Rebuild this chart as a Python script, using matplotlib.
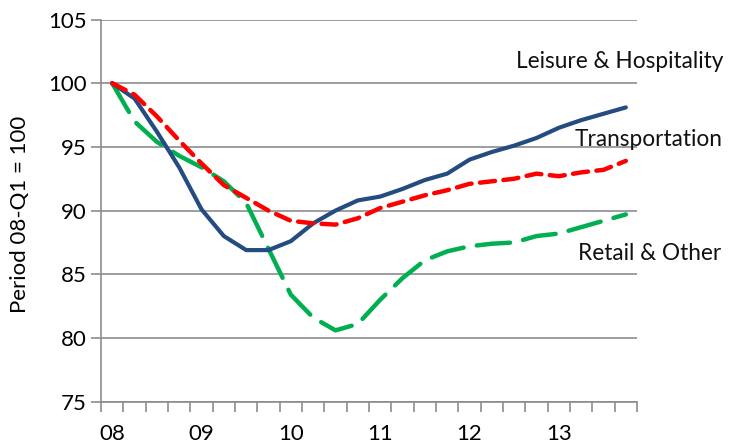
import matplotlib
matplotlib.use("Agg")
import matplotlib.pyplot as plt
import numpy as np

plt.rcParams['font.family'] = ['Lato', 'DejaVu Sans']

quarters = [f"{y:02d}-Q{q}" for y in range(8, 14) for q in range(1, 5)]
year_labels = ["08", "09", "10", "11", "12", "13"]

leisure = [100.0, 98.8, 96.2, 93.4, 90.1, 88.0, 86.9, 86.9, 87.6, 89.0, 90.0, 90.8,
           91.1, 91.7, 92.4, 92.9, 94.0, 94.6, 95.1, 95.7, 96.5, 97.1, 97.6, 98.1]
transport = [100.0, 99.1, 97.4, 95.5, 93.7, 92.0, 91.0, 90.0, 89.2, 89.0, 88.9, 89.4,
             90.2, 90.7, 91.2, 91.6, 92.1, 92.3, 92.5, 92.9, 92.7, 93.0, 93.2, 93.9]
retail = [100.0, 97.0, 95.4, 94.3, 93.4, 92.3, 90.6, 87.0, 83.4, 81.6, 80.6, 81.1,
          83.0, 84.7, 86.1, 86.8, 87.2, 87.4, 87.5, 88.0, 88.2, 88.7, 89.2, 89.7]

fig = plt.figure(figsize=(7.29, 4.45), dpi=100)
ax = fig.add_axes([101/729, 1 - 401.7/445, (637-101)/729, (401.7-19.5)/445])

x = np.arange(len(quarters))
ax.plot(x, leisure, color='#244C80', lw=3.0, solid_capstyle='round', solid_joinstyle='round', zorder=3)
ax.plot(x, transport, color='#FF0000', lw=3.2, linestyle=(0, (3.4, 1.9)), dash_capstyle='round', zorder=4)
ax.plot(x, retail, color='#00B050', lw=3.2, linestyle=(0, (7.5, 3.0)), dash_capstyle='round', zorder=2)

ax.set_xlim(-0.5, len(quarters) - 0.5)
ax.set_ylim(75, 105)
ax.set_yticks([75, 80, 85, 90, 95, 100, 105])
ax.set_xticks(np.arange(-0.5, len(quarters), 1.0))
ax.set_xticklabels([])
ax.set_xticks(np.arange(0, len(quarters), 4), minor=True)
ax.set_xticklabels(year_labels, minor=True)
ax.tick_params(axis='x', which='minor', length=0, pad=16, labelsize=16)
ax.tick_params(axis='x', which='major', length=7, width=1.2, color='#8C8C8C', direction='out')
ax.tick_params(axis='y', length=7, width=1.2, color='#8C8C8C', direction='out', labelsize=16, pad=3)

ax.grid(axis='y', color='#8C8C8C', lw=1.2)
ax.set_axisbelow(True)
for s in ['top', 'right']:
    ax.spines[s].set_visible(False)
for s in ['left', 'bottom']:
    ax.spines[s].set_color('#8C8C8C')
    ax.spines[s].set_linewidth(1.2)

ax.set_ylabel("Period 08-Q1 = 100", fontsize=16)
ax.yaxis.set_label_coords(-0.132, 0.49)

ax.text(516/729, 1 - 62/445, "Leisure & Hospitality", transform=fig.transFigure, fontsize=16.3, va='center', ha='left', color='#111111')
ax.text(575/729, 1 - 140/445, "Transportation", transform=fig.transFigure, fontsize=16.3, va='center', ha='left', color='#111111')
ax.text(578/729, 1 - 253/445, "Retail & Other", transform=fig.transFigure, fontsize=16.3, va='center', ha='left', color='#111111')

fig.savefig("out.png", dpi=100)
